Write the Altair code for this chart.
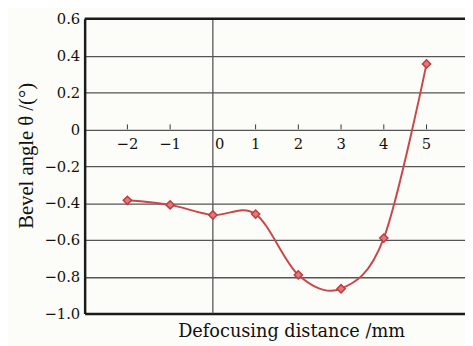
import altair as alt
import pandas as pd

# data
distance = [-2, -1, 0, 1, 2, 3, 4, 5]
bevel = [-0.385, -0.41, -0.465, -0.46, -0.79, -0.865, -0.59, 0.355]
tick_values = [-2, -1, 1, 2, 3, 4, 5]
tick_labels = ["−2", "−1", "1", "2", "3", "4", "5"]
y_ticks = [-1.0, -0.8, -0.6, -0.4, -0.2, 0.0, 0.2, 0.4, 0.6]

FONT = "DejaVu Serif"
TFONT = "Liberation Serif"
RED = "#c9474b"

df = pd.DataFrame({"d": distance, "b": bevel})
ticks_df = pd.DataFrame({"t": tick_values, "lab": tick_labels})
zero_df = pd.DataFrame({"t": [0], "lab": ["0"]})

xs = alt.Scale(domain=[-3, 5.9], nice=False, zero=False)
ys = alt.Scale(domain=[-1.0, 0.6], nice=False, zero=False)

x_axis = alt.Axis(title="Defocusing distance /mm", labels=False, ticks=False, grid=False,
                  domainColor="#1a1a1a", domainWidth=2.5, titleFont=FONT, titleFontSize=18,
                  titleFontWeight="normal", titleColor="#111", titleX=210, titleY=23,
                  titleBaseline="alphabetic", titleAnchor="middle")
y_axis = alt.Axis(title="Bevel angle θ /(°)", values=y_ticks, ticks=False, grid=True,
                  gridColor="#555", gridWidth=1.3, domainColor="#1a1a1a", domainWidth=2.5,
                  labelFont=FONT, labelFontSize=15, labelColor="#111", labelPadding=5,
                  labelOverlap=False, labelFlush=False,
                  labelExpr="datum.value == 0 ? '0' : format(datum.value, '.1f')",
                  titleFont=TFONT, titleFontSize=21, titleFontWeight="normal", titleColor="#111",
                  titleX=-53, titleY=139, titleAngle=270, titleAlign="center",
                  titleBaseline="alphabetic", titleAnchor="middle")


def X(field):
    return alt.X(field, scale=xs, axis=x_axis, title="Defocusing distance /mm")


def Y(field):
    return alt.Y(field, scale=ys, axis=y_axis, title="Bevel angle θ /(°)")


def Y0(val):
    return alt.datum(val, scale=ys, axis=y_axis, title="Bevel angle θ /(°)")


base = alt.Chart(df)

line = base.mark_line(interpolate="cardinal", color=RED, strokeWidth=2).encode(
    x=X("d:Q"), y=Y("b:Q"))
points = base.mark_point(shape="diamond", size=70, filled=True, fill="#e07a7a",
                         stroke="#c03a40", strokeWidth=1.5, opacity=1).encode(
    x=X("d:Q"), y=Y("b:Q"))

vline = alt.Chart(zero_df).mark_rule(color="#555", strokeWidth=1.3).encode(x=X("t:Q"))
top = alt.Chart(zero_df).mark_rule(color="#1a1a1a", strokeWidth=2.5).encode(y=Y0(0.6))

small_ticks = alt.Chart(ticks_df).mark_rule(color="#333", strokeWidth=1, y2Offset=-5).encode(
    x=X("t:Q"), y=Y0(0), y2=alt.datum(0))
labels = alt.Chart(ticks_df).mark_text(font=FONT, fontSize=15, color="#111", dy=15).encode(
    x=X("t:Q"), y=Y0(0), text="lab:N")
zero_label = alt.Chart(zero_df).mark_text(font=FONT, fontSize=15, color="#111", dy=15, dx=7).encode(
    x=X("t:Q"), y=Y0(0), text="lab:N")

chart = alt.layer(line, vline, top, small_ticks, labels, zero_label, points).properties(
    width=387, height=300,
    autosize=alt.AutoSizeParams(type="none"),
    padding={"left": 78, "top": 8, "right": 0, "bottom": 30},
    background="#fcfcf8",
).configure_view(stroke=None)

chart.save("out.html", embed_options={"renderer": "svg", "actions": False})
